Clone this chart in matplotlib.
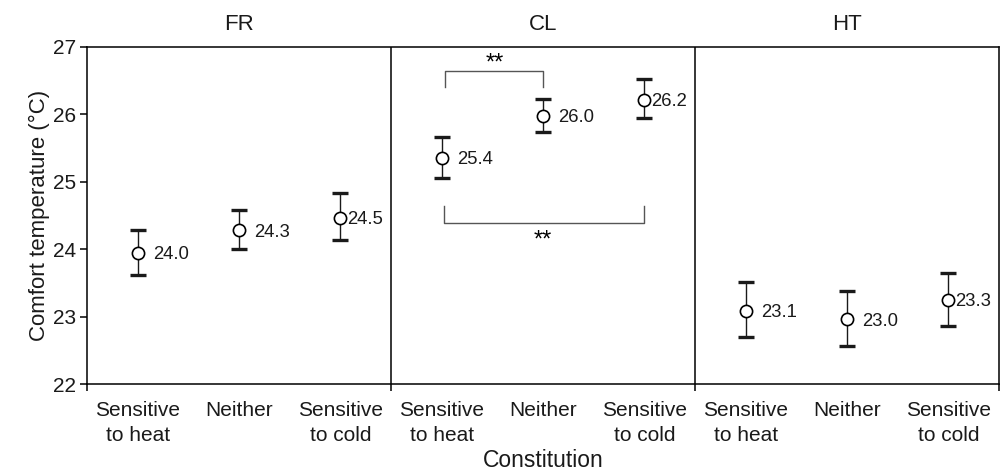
import matplotlib
matplotlib.use("Agg")
import matplotlib.pyplot as plt
import matplotlib.transforms as mtransforms

plt.rcParams['font.family'] = ['Liberation Sans', 'DejaVu Sans']

# ---- data ----
panels = ["FR", "CL", "HT"]
categories = ["Sensitive\nto heat", "Neither", "Sensitive\nto cold"]
means = [23.95, 24.28, 24.47,
         25.36, 25.98, 26.22,
         23.09, 22.96, 23.25]
upper = [24.28, 24.58, 24.83,
         25.66, 26.23, 26.52,
         23.51, 23.38, 23.65]
lower = [23.62, 24.00, 24.13,
         25.06, 25.74, 25.95,
         22.70, 22.57, 22.86]
value_labels = ["24.0", "24.3", "24.5",
                "25.4", "26.0", "26.2",
                "23.1", "23.0", "23.3"]
# significance comparisons (indices within all 9 points)
sig_pairs = [(3, 4, "**"), (3, 5, "**")]
y_ticks = [22, 23, 24, 25, 26, 27]

fig = plt.figure(figsize=(10.03, 4.73), dpi=100)
ax = fig.add_axes([87 / 1003, 1 - 384 / 473, (999 - 87) / 1003, (384 - 47) / 473])

n_cat = len(categories)
xs = list(range(len(means)))
yerr = [[m - l for m, l in zip(means, lower)], [u - m for m, u in zip(means, upper)]]

ax.errorbar(xs, means, yerr=yerr, fmt='none', ecolor='#1a1a1a',
            elinewidth=1.0, capsize=5.8, capthick=2.4, zorder=2)
ax.plot(xs, means, 'o', linestyle='none', markersize=8.8,
        markerfacecolor='white', markeredgecolor='black', markeredgewidth=1.2, zorder=3)

for i, (x, m, lab) in enumerate(zip(xs, means, value_labels)):
    off = 5.0 if i % n_cat == 2 else 11.0
    ax.annotate(lab, (x, m), xytext=(off, -1.5), textcoords='offset points',
                ha='left', va='center', fontsize=13.3, color='#1a1a1a')

# panel separators
for k in range(1, len(panels)):
    ax.axvline(k * n_cat - 0.5, color='black', lw=1.1)

# panel titles
trans = mtransforms.blended_transform_factory(ax.transData, ax.transAxes)
for k, p in enumerate(panels):
    ax.text(k * n_cat + (n_cat - 1) / 2, 1.037, p, transform=trans,
            ha='center', va='bottom', fontsize=16, color='#1a1a1a')

# significance brackets
br_color = '#555555'
ax.plot([3.03, 3.03, 4.0, 4.0], [26.40, 26.64, 26.64, 26.40], color=br_color, lw=1.0)
ax.text(3.52, 26.75, sig_pairs[0][2], ha='center', va='center', fontsize=17, color='black')
ax.plot([3.02, 3.02, 5.0, 5.0], [24.64, 24.39, 24.39, 24.64], color=br_color, lw=1.0)
ax.text(4.0, 24.13, sig_pairs[1][2], ha='center', va='center', fontsize=17, color='black')

# axes styling
ax.set_xlim(-0.5, len(means) - 0.5)
ax.set_ylim(22, 27)
ax.set_yticks(y_ticks)
ax.set_yticklabels([str(v) for v in y_ticks], fontsize=15, color='#1a1a1a')
ax.tick_params(axis='y', direction='out', length=5, width=1.1, pad=3)

ax.set_xticks([k * n_cat - 0.5 for k in range(len(panels) + 1)])
ax.set_xticklabels([])
ax.tick_params(axis='x', which='major', direction='out', length=5, width=1.1)
ax.set_xticks(xs, minor=True)
ax.set_xticklabels(categories * len(panels), minor=True, fontsize=15, color='#1a1a1a',
                   linespacing=1.4)
ax.tick_params(axis='x', which='minor', length=0, pad=12)

for s in ax.spines.values():
    s.set_linewidth(1.1)
    s.set_color('black')

ax.set_ylabel("Comfort temperature (°C)", fontsize=16, color='#1a1a1a', labelpad=2)
ax.set_xlabel("Constitution", fontsize=16.5, color='#1a1a1a', labelpad=3)

fig.savefig("out.png", dpi=100)
